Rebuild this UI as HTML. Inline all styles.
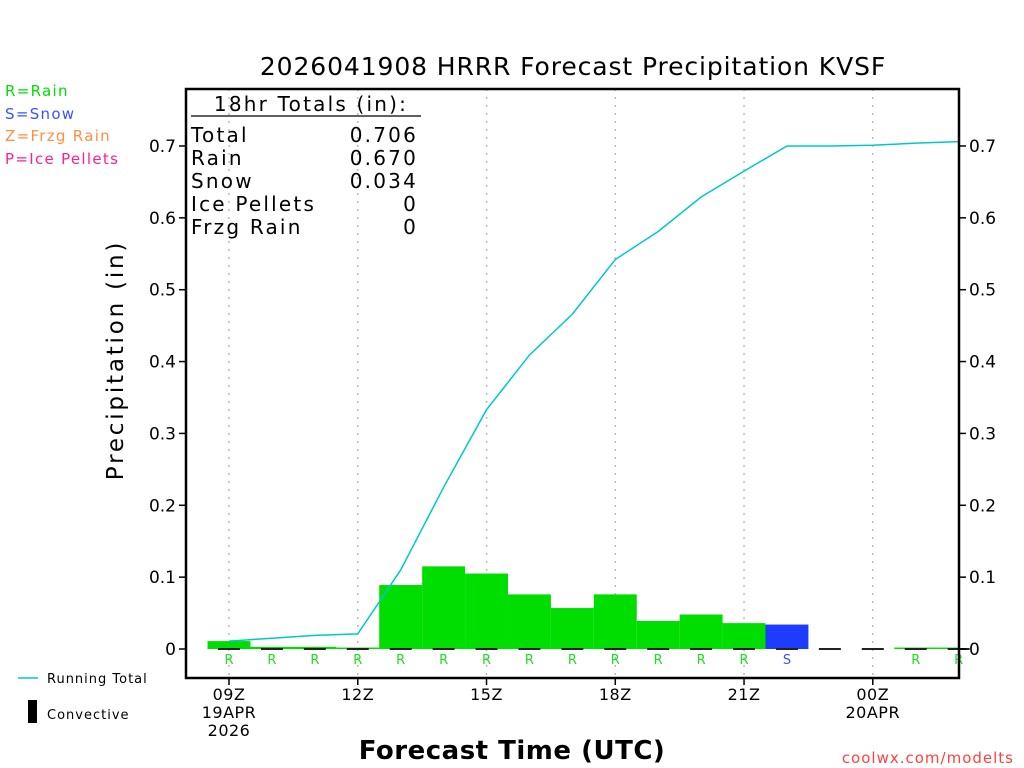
<!DOCTYPE html>
<html><head><meta charset="utf-8"><style>
html,body{margin:0;padding:0;background:#fff;}
svg{display:block;font-family:"DejaVu Sans","Liberation Sans",sans-serif;}
</style></head><body>
<svg id="c" width="1024" height="768" viewBox="0 0 1024 768" xmlns="http://www.w3.org/2000/svg">
<text x="573" y="75" font-size="25" text-anchor="middle" letter-spacing="0.9" fill="#000">2026041908 HRRR Forecast Precipitation KVSF</text>
<g font-size="15" letter-spacing="1.3">
<text x="5" y="96" fill="#00dd00">R=Rain</text>
<text x="5" y="119" fill="#3355ff">S=Snow</text>
<text x="5" y="141" fill="#ff9040">Z=Frzg Rain</text>
<text x="5" y="164" fill="#ff2090">P=Ice Pellets</text>
</g>
<text transform="translate(123,360) rotate(-90)" font-size="23" letter-spacing="2.8" text-anchor="middle">Precipitation (in)</text>
<text x="512" y="759" font-size="26" text-anchor="middle" font-weight="bold" letter-spacing="0.5">Forecast Time (UTC)</text>
<text x="1014" y="763" font-size="15" text-anchor="end" fill="#ff4040" letter-spacing="1">coolwx.com/modelts</text>
<line x1="18" y1="678" x2="38" y2="678" stroke="#00c8c8" stroke-width="1.5"/>
<text x="47" y="683" font-size="13" letter-spacing="1">Running Total</text>
<rect x="28" y="700" width="9" height="23" fill="#000"/>
<text x="47" y="719" font-size="13" letter-spacing="1">Convective</text>
<g id="plot"></g>
<g font-size="20" letter-spacing="2.2">
<text x="311" y="111" text-anchor="middle">18hr Totals (in):</text>
<line x1="191" y1="116" x2="421" y2="116" stroke="#000" stroke-width="1.2"/>
<text x="191" y="142">Total</text><text x="418" y="142" text-anchor="end">0.706</text>
<text x="191" y="165">Rain</text><text x="418" y="165" text-anchor="end">0.670</text>
<text x="191" y="188">Snow</text><text x="418" y="188" text-anchor="end">0.034</text>
<text x="191" y="211">Ice Pellets</text><text x="418" y="211" text-anchor="end">0</text>
<text x="191" y="234">Frzg Rain</text><text x="418" y="234" text-anchor="end">0</text>
</g>
</svg>
<script>
const hours = ["09","10","11","12","13","14","15","16","17","18","19","20","21","22","23","00","01","02"];
const hourlyPrecip = [0.011,0.003,0.003,0.002,0.089,0.115,0.105,0.076,0.057,0.076,0.039,0.048,0.036,0.034,0,0,0.002,0.002];
const precipType = ["R","R","R","R","R","R","R","R","R","R","R","R","R","S","","","R","R"];
const runningTotal = [0.011,0.015,0.019,0.021,0.110,0.225,0.333,0.409,0.466,0.542,0.581,0.629,0.665,0.700,0.700,0.701,0.704,0.706];
const yTicks = [0,0.1,0.2,0.3,0.4,0.5,0.6,0.7];
const yTickLabels = ["0","0.1","0.2","0.3","0.4","0.5","0.6","0.7"];
const xTickIdx = [0,3,6,9,12,15];
const xTickLabels = [["09Z","19APR","2026"],["12Z"],["15Z"],["18Z"],["21Z"],["00Z","20APR"]];

const L=186,R=959,T=89,B=678;
const X=i=>229+i*42.92;
const Y=v=>649-v*718.6;
const bw=42.92;
const ns="http://www.w3.org/2000/svg";
const g=document.getElementById('plot');
function mk(tag,attrs){const e=document.createElementNS(ns,tag);for(const k in attrs)e.setAttribute(k,attrs[k]);g.appendChild(e);return e;}
const clip=document.createElementNS(ns,'clipPath');clip.setAttribute('id','pc');
const cr=document.createElementNS(ns,'rect');cr.setAttribute('x',L);cr.setAttribute('y',T);cr.setAttribute('width',R-L);cr.setAttribute('height',B-T);clip.appendChild(cr);g.appendChild(clip);
xTickIdx.forEach(i=>{const e=mk('line',{x1:X(i),x2:X(i),y1:T,y2:B,stroke:'#bbb','stroke-dasharray':'2,6','stroke-width':1.5});
});
hourlyPrecip.forEach((v,i)=>{
 const col=precipType[i]==="S"?"#1e3cff":"#00dd00";
 const r=mk('rect',{x:X(i)-bw/2,y:Y(v),width:bw,height:Math.max(0,Y(0)-Y(v)),fill:col,'clip-path':'url(#pc)'});
 
 
 const c=mk('line',{x1:X(i)-11,x2:X(i)+11,y1:Y(0),y2:Y(0),stroke:'#222','stroke-width':2});
 
 
 if(precipType[i]){const t=mk('text',{x:X(i),y:664,'font-size':13,'text-anchor':'middle',fill:precipType[i]==="S"?"#3355ff":"#22dd22"});t.textContent=precipType[i];
 }
});
const pl=mk('polyline',{points:runningTotal.map((v,i)=>X(i)+','+Y(v)).join(' '),fill:'none',stroke:'#00c8c8','stroke-width':1.5});


const fr=mk('rect',{x:L,y:T,width:R-L,height:B-T,fill:'none',stroke:'#000','stroke-width':2.5});


yTicks.forEach((v,k)=>{
 mk('line',{x1:L-7,x2:L,y1:Y(v),y2:Y(v),stroke:'#000','stroke-width':1.5});
 mk('line',{x1:R,x2:R+7,y1:Y(v),y2:Y(v),stroke:'#000','stroke-width':1.5});
 const a=mk('text',{x:L-10,y:Y(v)+6,'font-size':17,'text-anchor':'end'});a.textContent=yTickLabels[k];
 
 const b=mk('text',{x:R+10,y:Y(v)+6,'font-size':17});b.textContent=yTickLabels[k];
 
});
xTickIdx.forEach((i,k)=>{
 mk('line',{x1:X(i),x2:X(i),y1:B,y2:B+7,stroke:'#000','stroke-width':1.5});
 xTickLabels[k].forEach((s,j)=>{const t=mk('text',{x:X(i),y:700+j*18,'font-size':16,'letter-spacing':'0.5','text-anchor':'middle'});t.textContent=s;
 });
});
</script>
</body></html>
